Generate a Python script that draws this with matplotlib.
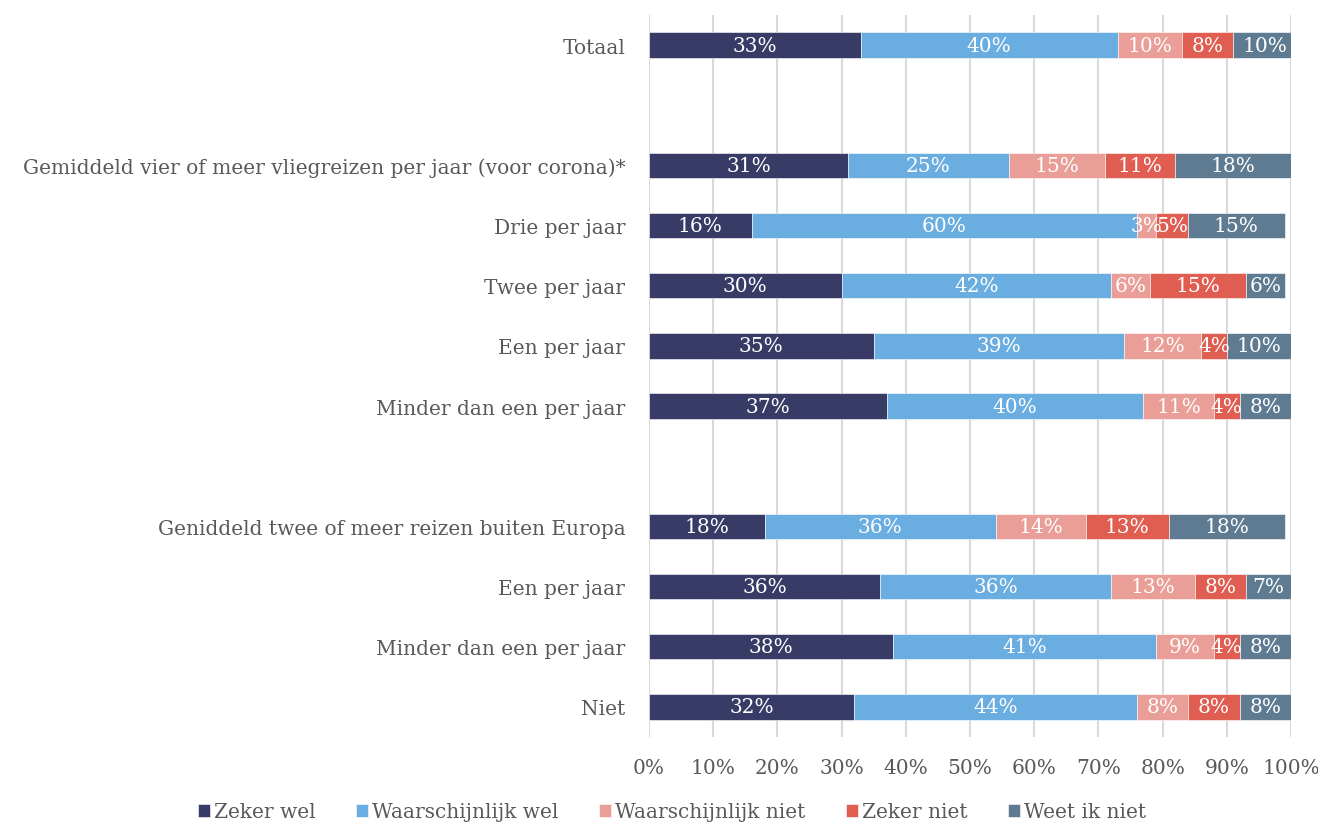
import numpy as np
import matplotlib.pyplot as plt

# Categorieën (boven naar beneden); lege strings zijn witregels
categories = [
    "Totaal",
    "",
    "Gemiddeld vier of meer vliegreizen per jaar (voor corona)*",
    "Drie per jaar",
    "Twee per jaar",
    "Een per jaar",
    "Minder dan een per jaar",
    "",
    "Geniddeld twee of meer reizen buiten Europa",
    "Een per jaar",
    "Minder dan een per jaar",
    "Niet",
]

series_names = ["Zeker wel", "Waarschijnlijk wel", "Waarschijnlijk niet",
                "Zeker niet", "Weet ik niet"]

# Percentages per reeks (None = witregel)
zeker_wel = [33, None, 31, 16, 30, 35, 37, None, 18, 36, 38, 32]
waarsch_wel = [40, None, 25, 60, 42, 39, 40, None, 36, 36, 41, 44]
waarsch_niet = [10, None, 15, 3, 6, 12, 11, None, 14, 13, 9, 8]
zeker_niet = [8, None, 11, 5, 15, 4, 4, None, 13, 8, 4, 8]
weet_niet = [10, None, 18, 15, 6, 10, 8, None, 18, 7, 8, 8]

xticks = [0, 10, 20, 30, 40, 50, 60, 70, 80, 90, 100]

colors = ["#383B66", "#6AADE0", "#EA9E98", "#E05D52", "#5E7B91"]

series = [zeker_wel, waarsch_wel, waarsch_niet, zeker_niet, weet_niet]

plt.rcParams['font.family'] = ['DejaVu Serif']

fig = plt.figure(figsize=(13.18, 8.29), dpi=100)
ax = fig.add_axes([0.4924, 0.1098, 0.4871, 0.8709])

y = np.arange(len(categories))
left = np.zeros(len(categories))
rows = [i for i, s in enumerate(zeker_wel) if s is not None]

for name, vals, col in zip(series_names, series, colors):
    v = np.array([0 if s is None else s for s in vals], dtype=float)
    ax.barh(y[rows], v[rows], left=left[rows], height=0.42, color=col,
            label=name, edgecolor='white', linewidth=0.4, zorder=3)
    for i in rows:
        ax.text(left[i] + v[i] / 2, y[i], f"{vals[i]}%", ha='center',
                va='center', color='white', fontsize=14.5, zorder=4)
    left += v

ax.set_ylim(len(categories) - 0.5, -0.5)
ax.set_xlim(0, 100)
ax.set_yticks(y)
ax.set_yticklabels(categories, fontsize=14.5, color='#595959')
ax.set_xticks(xticks)
ax.set_xticklabels([f"{t}%" for t in xticks], fontsize=14.5, color='#595959')
ax.tick_params(axis='both', length=0)
ax.tick_params(axis='y', pad=17)
ax.tick_params(axis='x', pad=15)

ax.grid(axis='x', color='#D9D9D9', linewidth=1.5, zorder=0)
for sp in ax.spines.values():
    sp.set_visible(False)

leg = fig.legend(loc='lower center', bbox_to_anchor=(0.51, -0.014), ncol=5,
                 frameon=False, fontsize=14.5, handlelength=0.6, handleheight=0.6,
                 handletextpad=0.2, columnspacing=2.0)
for t in leg.get_texts():
    t.set_color('#595959')

fig.savefig("out.png", dpi=100)
